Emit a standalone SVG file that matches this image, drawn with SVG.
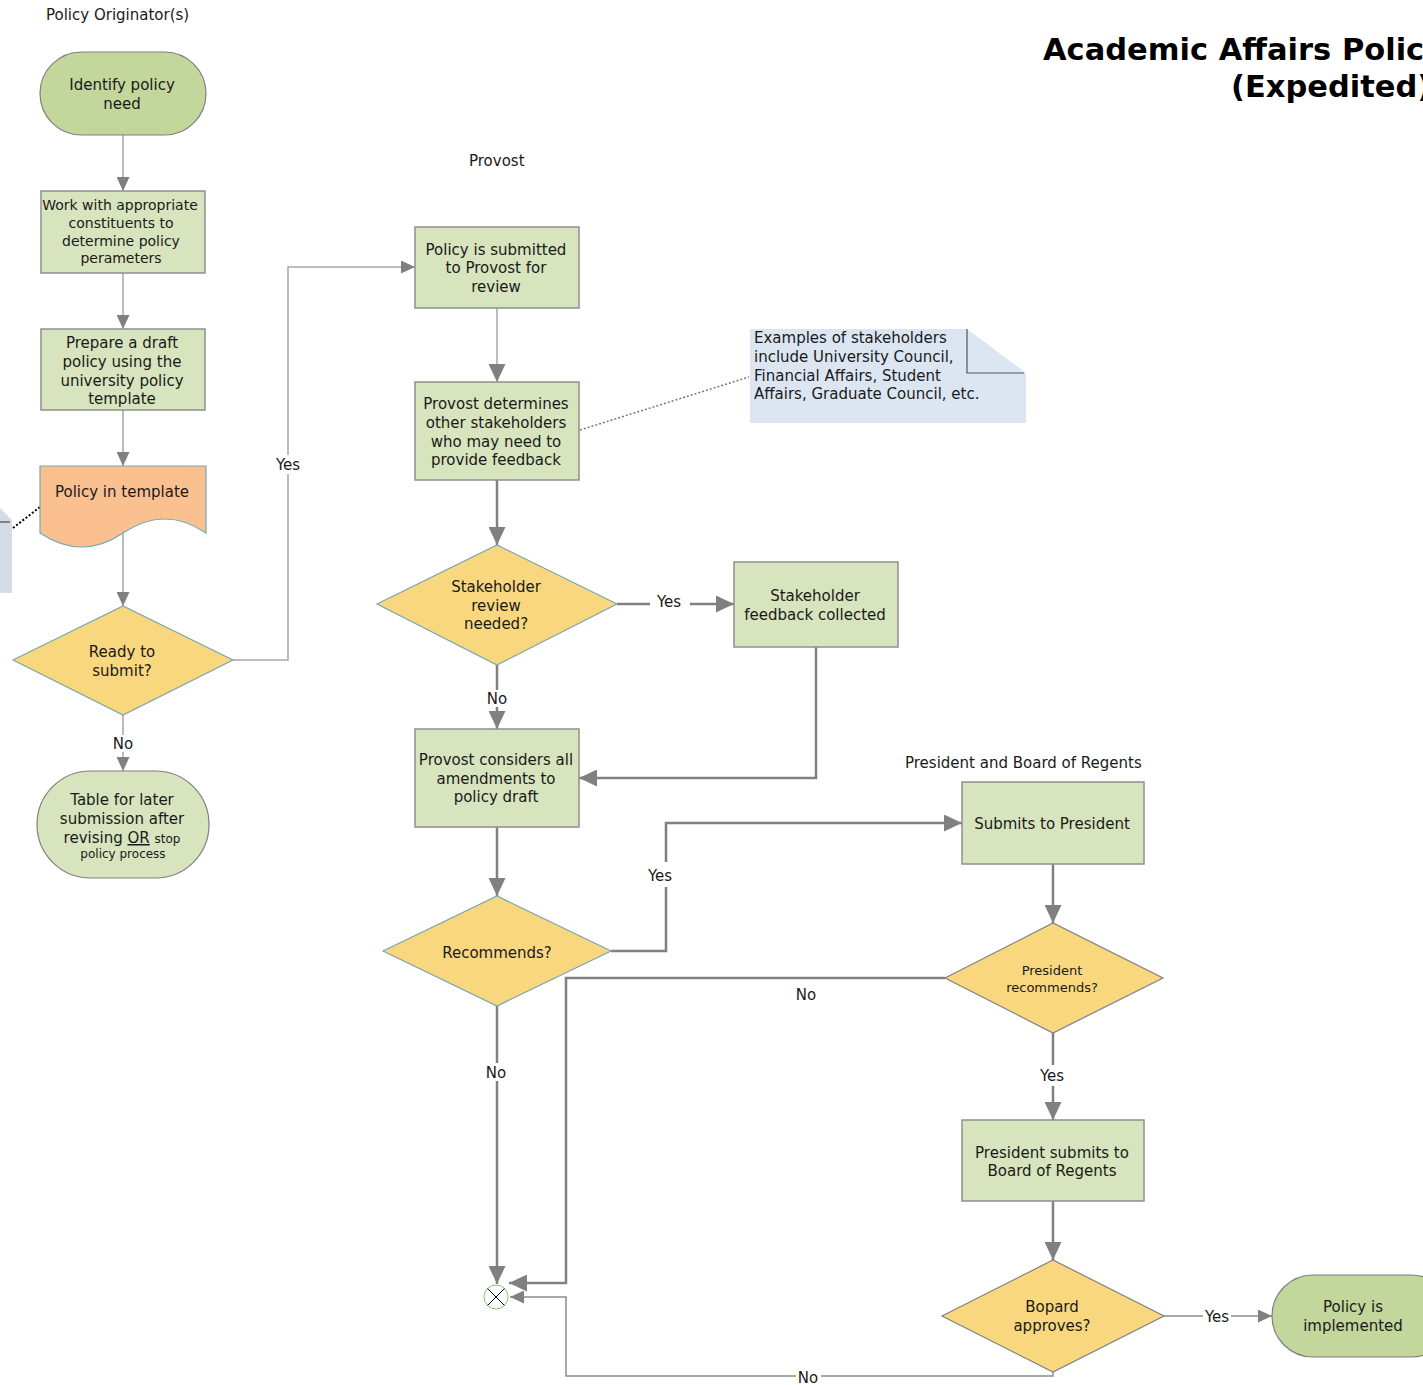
<svg xmlns="http://www.w3.org/2000/svg" width="1423" height="1385" viewBox="0 0 1423 1385">
<style>
text{font-family:"DejaVu Sans",Verdana,sans-serif;fill:#1a1a1a;}
.t{font-size:15px;text-anchor:middle;}
.s{font-size:14px;text-anchor:middle;}
.lane{font-size:15px;}
.lbl{font-size:15px;text-anchor:middle;}
.title{font-size:30.5px;font-weight:bold;fill:#000;}
.box{fill:#d7e4bd;stroke:#8f8f8f;stroke-width:1.5;}
.term{fill:#c3d69b;stroke:#7f7f7f;stroke-width:1.2;}
.term2{fill:#d7e4bd;stroke:#7f7f7f;stroke-width:1.2;}
.dia{fill:#f9d77e;stroke:#7aa6ad;stroke-width:1.2;}
.dia2{fill:#f9d77e;stroke:#808080;stroke-width:1.2;}
.c1{fill:none;stroke:#a6a6a6;stroke-width:1.5;}
.c2{fill:none;stroke:#808080;stroke-width:2.5;}
.c3{fill:none;stroke:#8c8c8c;stroke-width:1.5;}
</style>
<defs>
<marker id="a1" markerUnits="userSpaceOnUse" markerWidth="14" markerHeight="13" refX="14" refY="6.5" orient="auto"><path d="M0,0 L14,6.5 L0,13 Z" fill="#808080"/></marker>
<marker id="a2" markerUnits="userSpaceOnUse" markerWidth="18" markerHeight="17" refX="18" refY="8.5" orient="auto"><path d="M0,0 L18,8.5 L0,17 Z" fill="#808080"/></marker>
</defs>
<rect width="1423" height="1385" fill="#fff"/>

<!-- lane labels & title -->
<text class="lane" x="46" y="20">Policy Originator(s)</text>
<text class="lane" x="469" y="166">Provost</text>
<text class="lane" x="905" y="768">President and Board of Regents</text>
<text class="title" x="1043" y="60">Academic Affairs Policy</text>
<text class="title" x="1231" y="97">(Expedited)</text>

<!-- connectors -->
<g id="connectors">
<line class="c1" x1="123" y1="135" x2="123" y2="191" marker-end="url(#a1)"/>
<line class="c1" x1="123" y1="273" x2="123" y2="329" marker-end="url(#a1)"/>
<line class="c1" x1="123" y1="410" x2="123" y2="466" marker-end="url(#a1)"/>
<line class="c1" x1="123" y1="533" x2="123" y2="606" marker-end="url(#a1)"/>
<line class="c1" x1="123" y1="715" x2="123" y2="735"/>
<line class="c1" x1="123" y1="752" x2="123" y2="771" marker-end="url(#a1)"/>
<text class="lbl" x="123" y="749">No</text>
<polyline class="c1" points="233,660 288,660 288,474"/>
<polyline class="c1" points="288,455 288,267 415,267" marker-end="url(#a1)"/>
<text class="lbl" x="288" y="470">Yes</text>
<line x1="13" y1="528" x2="40" y2="507" stroke="#000" stroke-width="2" stroke-dasharray="2,2"/>

<line class="c2" x1="497" y1="308" x2="497" y2="382" marker-end="url(#a2)" style="stroke:#a6a6a6;stroke-width:1.5"/>
<line x1="580" y1="430" x2="749" y2="377" stroke="#777" stroke-width="1.5" stroke-dasharray="2,2"/>
<line class="c2" x1="497" y1="480" x2="497" y2="545" marker-end="url(#a2)"/>
<line class="c2" x1="617" y1="604" x2="650" y2="604"/>
<line class="c2" x1="690" y1="604" x2="734" y2="604" marker-end="url(#a2)"/>
<text class="lbl" x="669" y="607">Yes</text>
<polyline class="c2" points="816,647 816,778 579,778" marker-end="url(#a2)"/>
<line class="c2" x1="497" y1="665" x2="497" y2="690"/>
<line class="c2" x1="497" y1="707" x2="497" y2="729" marker-end="url(#a2)"/>
<text class="lbl" x="497" y="704">No</text>
<line class="c2" x1="497" y1="827" x2="497" y2="896" marker-end="url(#a2)"/>
<polyline class="c2" points="611,951 666,951 666,887"/>
<polyline class="c2" points="666,862 666,823 962,823" marker-end="url(#a2)"/>
<text class="lbl" x="660" y="881">Yes</text>
<line class="c2" x1="497" y1="1006" x2="497" y2="1063"/>
<line class="c2" x1="497" y1="1081" x2="497" y2="1284" marker-end="url(#a2)"/>
<text class="lbl" x="496" y="1078">No</text>
<polyline class="c2" points="945,978 566,978 566,1283 509,1283" marker-end="url(#a2)"/>
<text class="lbl" x="806" y="1000">No</text>
<line class="c2" x1="1053" y1="864" x2="1053" y2="923" marker-end="url(#a2)"/>
<line class="c2" x1="1053" y1="1033" x2="1053" y2="1065"/>
<line class="c2" x1="1053" y1="1086" x2="1053" y2="1120" marker-end="url(#a2)"/>
<text class="lbl" x="1052" y="1081">Yes</text>
<line class="c2" x1="1053" y1="1201" x2="1053" y2="1260" marker-end="url(#a2)"/>
<line class="c3" x1="1164" y1="1316" x2="1203" y2="1316"/>
<line class="c3" x1="1231" y1="1316" x2="1272" y2="1316" marker-end="url(#a1)"/>
<text class="lbl" x="1217" y="1322">Yes</text>
<polyline class="c3" points="1053,1372 1053,1376 821,1376"/>
<polyline class="c3" points="796,1376 566,1376 566,1297 510,1297" marker-end="url(#a1)"/>
<text class="lbl" x="808" y="1383">No</text>
</g>

<!-- left lane nodes -->
<g id="n-identify">
<rect class="term" x="40" y="52" width="166" height="83" rx="41.5"/>
<text class="t" x="122" y="90">Identify policy</text>
<text class="t" x="122" y="109">need</text>
</g>
<g id="n-work">
<rect class="box" x="41" y="191" width="164" height="82"/>
<text class="s" x="120" y="210">Work with appropriate</text>
<text class="s" x="121" y="228">constituents to</text>
<text class="s" x="121" y="246">determine policy</text>
<text class="s" x="121" y="263">perameters</text>
</g>
<g id="n-prepare">
<rect class="box" x="41" y="329" width="164" height="81"/>
<text class="t" x="122" y="348">Prepare a draft</text>
<text class="t" x="122" y="367">policy using the</text>
<text class="t" x="122" y="386">university policy</text>
<text class="t" x="122" y="404">template</text>
</g>
<g id="n-doc">
<path d="M40,466 H206 V533 Q165,505 123,533 Q82,561 40,533 Z" fill="#fac090" stroke="#73aab0" stroke-width="1.2"/>
<text class="t" x="122" y="497">Policy in template</text>
</g>
<g id="n-leftnote">
<polygon points="0,508 12,520 12,593 0,593" fill="#d5dce8"/>
<line x1="0" y1="522" x2="10" y2="522" stroke="#666" stroke-width="1.5"/>
</g>
<g id="n-ready">
<polygon class="dia" points="13,660 123,606 233,660 123,715"/>
<text class="t" x="122" y="657">Ready to</text>
<text class="t" x="122" y="676">submit?</text>
</g>
<g id="n-table">
<rect class="term2" x="37" y="771" width="172" height="107" rx="53.5"/>
<text class="t" x="122" y="805">Table for later</text>
<text class="t" x="122" y="824">submission after</text>
<text class="t" x="122" y="843">revising <tspan text-decoration="underline">OR</tspan> <tspan font-size="12">stop</tspan></text>
<text x="123" y="858" style="font-size:12px;text-anchor:middle">policy process</text>
</g>

<!-- provost lane -->
<g id="n-submitted">
<rect class="box" x="415" y="227" width="164" height="81"/>
<text class="t" x="496" y="255">Policy is submitted</text>
<text class="t" x="496" y="273">to Provost for</text>
<text class="t" x="496" y="292">review</text>
</g>
<g id="n-determines">
<rect class="box" x="415" y="382" width="164" height="98"/>
<text class="t" x="496" y="409">Provost determines</text>
<text class="t" x="496" y="428">other stakeholders</text>
<text class="t" x="496" y="447">who may need to</text>
<text class="t" x="496" y="465">provide feedback</text>
</g>
<g id="n-note">
<polygon points="750,329 967,329 1026,373 1026,423 750,423" fill="#dce6f2"/>
<polyline points="967,329 967,373 1024,373" fill="none" stroke="#555" stroke-width="1.2"/>
<text x="754" y="343" style="font-size:15px">Examples of stakeholders</text>
<text x="754" y="362" style="font-size:15px">include University Council,</text>
<text x="754" y="381" style="font-size:15px">Financial Affairs, Student</text>
<text x="754" y="399" style="font-size:15px">Affairs, Graduate Council, etc.</text>
</g>
<g id="n-stakeq">
<polygon class="dia" points="377,604 497,545 617,604 497,665"/>
<text class="t" x="496" y="592">Stakeholder</text>
<text class="t" x="496" y="611">review</text>
<text class="t" x="496" y="629">needed?</text>
</g>
<g id="n-feedback">
<rect class="box" x="734" y="562" width="164" height="85"/>
<text class="t" x="815" y="601">Stakeholder</text>
<text class="t" x="815" y="620">feedback collected</text>
</g>
<g id="n-considers">
<rect class="box" x="415" y="729" width="164" height="98"/>
<text class="t" x="496" y="765">Provost considers all</text>
<text class="t" x="496" y="784">amendments to</text>
<text class="t" x="496" y="802">policy draft</text>
</g>
<g id="n-recommends">
<polygon class="dia" points="383,951 497,896 611,951 497,1006"/>
<text class="t" x="497" y="958">Recommends?</text>
</g>
<g id="n-end">
<circle cx="496" cy="1297" r="12" fill="#fff" stroke="#8cc06e" stroke-width="1"/>
<line x1="487.5" y1="1288.5" x2="504.5" y2="1305.5" stroke="#000" stroke-width="1"/>
<line x1="504.5" y1="1288.5" x2="487.5" y2="1305.5" stroke="#000" stroke-width="1"/>
</g>

<!-- president lane -->
<g id="n-submits">
<rect class="box" x="962" y="782" width="182" height="82"/>
<text class="t" x="1052" y="829">Submits to President</text>
</g>
<g id="n-presrec">
<polygon class="dia2" points="945,978 1053,923 1163,978 1053,1033"/>
<text x="1052" y="975" style="font-size:13px;text-anchor:middle">President</text>
<text x="1052" y="992" style="font-size:13px;text-anchor:middle">recommends?</text>
</g>
<g id="n-pressubmits">
<rect class="box" x="962" y="1120" width="182" height="81"/>
<text class="t" x="1052" y="1158">President submits to</text>
<text class="t" x="1052" y="1176">Board of Regents</text>
</g>
<g id="n-board">
<polygon class="dia2" points="942,1316 1053,1260 1164,1316 1053,1372"/>
<text class="t" x="1052" y="1312">Bopard</text>
<text class="t" x="1052" y="1331">approves?</text>
</g>
<g id="n-implemented">
<rect class="term" x="1272" y="1275" width="180" height="82" rx="41"/>
<text class="t" x="1353" y="1312">Policy is</text>
<text class="t" x="1353" y="1331">implemented</text>
</g>
</svg>
